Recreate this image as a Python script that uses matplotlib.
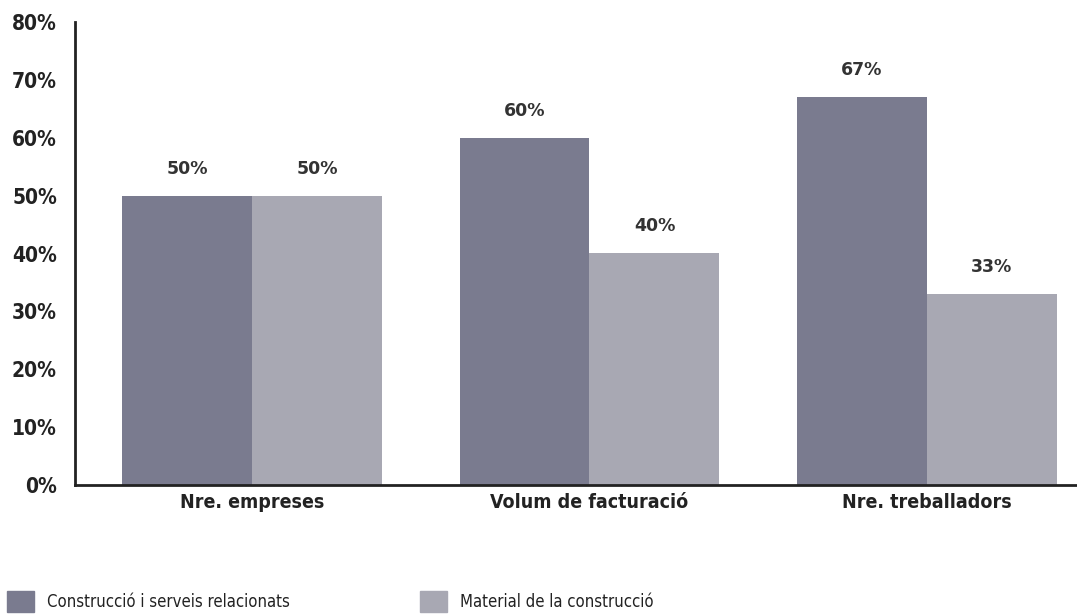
import numpy as np
import matplotlib.pyplot as plt
from matplotlib.patches import Patch

categories = ["Nre. empreses", "Volum de facturació", "Nre. treballadors"]
serie_names = ["Construcció i serveis relacionats", "Material de la construcció"]
construccio = [50, 60, 67]
material = [50, 40, 33]
yticks = [0, 10, 20, 30, 40, 50, 60, 70, 80]

DARK = "#7a7b8f"
LIGHT = "#a8a8b3"
NARROW = ["DejaVu Sans"]

fig = plt.figure(figsize=(10.77, 6.15), dpi=100)
ax = fig.add_axes([75 / 1077, 130 / 615, 1 - 75 / 1077, 463 / 615])

x = np.arange(len(categories))
w = 0.385
b1 = ax.bar(x - w / 2, construccio, w, color=DARK)
b2 = ax.bar(x + w / 2, material, w, color=LIGHT)

for bars, vals in [(b1, construccio), (b2, material)]:
    for bar, v in zip(bars, vals):
        ax.annotate(f"{v}%", (bar.get_x() + bar.get_width() / 2, v),
                    xytext=(0, 13), textcoords="offset points",
                    ha="center", va="bottom", fontsize=12.5,
                    fontweight="bold", family="DejaVu Sans", color="#333333")

ax.set_xlim(-0.525, 2.445)
ax.set_ylim(0, 80)
ax.set_yticks(yticks)
ax.set_yticklabels([f"{t}%" for t in yticks])
ax.set_xticks(x)
ax.set_xticklabels(categories)
for lab in ax.get_yticklabels():
    lab.set_fontfamily(NARROW)
    lab.set_fontstretch("condensed")
    lab.set_fontweight("bold")
    lab.set_fontsize(15)
    lab.set_color("#222222")
for lab in ax.get_xticklabels():
    lab.set_fontfamily(NARROW)
    lab.set_fontstretch("condensed")
    lab.set_fontweight("bold")
    lab.set_fontsize(14)
    lab.set_color("#222222")
ax.tick_params(axis="both", length=0)
ax.tick_params(axis="y", pad=13)
ax.tick_params(axis="x", pad=6)

for side in ["top", "right"]:
    ax.spines[side].set_visible(False)
for side in ["left", "bottom"]:
    ax.spines[side].set_linewidth(2)
    ax.spines[side].set_color("#222222")

handles = [Patch(color=DARK), Patch(color=LIGHT)]
leg = fig.legend(handles, serie_names, loc="lower left",
                 bbox_to_anchor=(-0.007, -0.02), ncol=2, frameon=False,
                 prop={"family": NARROW, "size": 12, "stretch": "condensed"},
                 handlelength=1.6, handleheight=1.6, handletextpad=0.8,
                 columnspacing=7.8, labelcolor="#222222")

fig.savefig("out.png", dpi=100)
